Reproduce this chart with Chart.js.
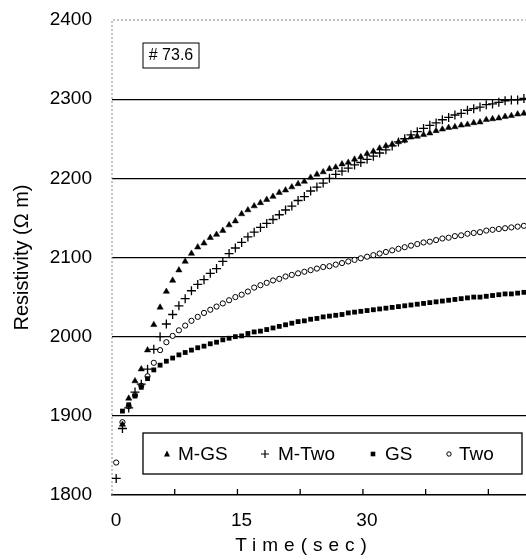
<!DOCTYPE html>
<html>
<head>
<meta charset="utf-8">
<script src="https://cdn.jsdelivr.net/npm/chart.js@4.4.1/dist/chart.umd.min.js"></script>
<style>
  html, body { margin: 0; padding: 0; background: #fff; overflow: hidden; }
  #wrap { width: 526px; height: 560px; }
</style>
</head>
<body>
<div id="wrap"><canvas id="myChart" width="526" height="560"></canvas></div>
<script>
// sample times (sec)
const times = [
  0.5, 1.25, 2, 2.75, 3.5, 4.25, 5, 5.75, 6.5, 7.25, 8, 8.75, 9.5, 10.25, 11, 11.75,
  12.5, 13.25, 14, 14.75, 15.5, 16.25, 17, 17.75, 18.5, 19.25, 20, 20.75, 21.5, 22.25,
  23, 23.75, 24.5, 25.25, 26, 26.75, 27.5, 28.25, 29, 29.75, 30.5, 31.25, 32, 32.75,
  33.5, 34.25, 35, 35.75, 36.5, 37.25, 38, 38.75, 39.5, 40.25, 41, 41.75, 42.5, 43.25,
  44, 44.75, 45.5, 46.25, 47, 47.75, 48.5, 49.25
];

const mgs = [
  null, 1889, 1922, 1944, 1959, 1983, 2015, 2037, 2057, 2071, 2084, 2095, 2105, 2113,
  2118, 2125, 2129, 2134, 2141, 2146, 2155, 2160, 2165, 2169, 2173, 2177, 2182, 2185,
  2189, 2193, 2196, 2201, 2205, 2208, 2212, 2214, 2218, 2220, 2224, 2227, 2231, 2234,
  2238, 2241, 2243, 2246, 2248, 2252, 2253, 2255, 2257, 2260, 2262, 2264, 2265, 2267,
  2268, 2270, 2271, 2274, 2275, 2276, 2278, 2279, 2281, 2282
];

const mtwo = [
  1821, 1884, 1910, 1930, 1940, 1959, 1984, 2000, 2016, 2028, 2039, 2048, 2058, 2066,
  2072, 2080, 2086, 2095, 2105, 2112, 2119, 2126, 2132, 2138, 2143, 2148, 2154, 2160,
  2165, 2172, 2177, 2184, 2189, 2194, 2200, 2205, 2209, 2213, 2217, 2220, 2224, 2228,
  2232, 2236, 2241, 2246, 2250, 2255, 2259, 2263, 2267, 2270, 2274, 2277, 2280, 2282,
  2286, 2288, 2290, 2293, 2294, 2296, 2298, 2299, 2299, 2301
];

const gs = [
  null, 1906, 1914, 1925, 1936, 1947, 1958, 1964, 1969, 1973, 1977, 1980, 1983, 1986,
  1988, 1991, 1993, 1996, 1998, 2000, 2001, 2004, 2006, 2007, 2009, 2011, 2013, 2015,
  2017, 2019, 2020, 2022, 2023, 2025, 2026, 2027, 2028, 2030, 2031, 2032, 2033, 2034,
  2035, 2036, 2037, 2038, 2039, 2040, 2041, 2042, 2043, 2044, 2045, 2046, 2047, 2048,
  2049, 2050, 2050, 2051, 2052, 2053, 2054, 2054, 2055, 2056
];

const two = [
  1841, 1892, 1912, 1926, 1938, 1950, 1967, 1983, 1993, 2001, 2008, 2014, 2020, 2025,
  2030, 2034, 2038, 2042, 2046, 2050, 2053, 2057, 2062, 2065, 2068, 2071, 2073, 2076,
  2078, 2080, 2082, 2084, 2086, 2088, 2089, 2091, 2093, 2095, 2097, 2099, 2101, 2103,
  2105, 2107, 2109, 2111, 2113, 2115, 2117, 2119, 2120, 2122, 2124, 2125, 2127, 2128,
  2130, 2131, 2132, 2134, 2135, 2136, 2137, 2138, 2139, 2140
];

const xLabels = [0, 15, 30];
const xMinorTicks = [7.5, 15, 22.5, 30, 37.5, 45];
const seriesNames = ["M-GS", "M-Two", "GS", "Two"];
const sampleTag = "# 73.6";

const FONT = "'Liberation Sans', Arial, sans-serif";

function toPoints(ys) {
  return times.map((t, i) => ({ x: t, y: ys[i] }));
}

// dashed frame, inner x ticks, sample tag, legend box and x title
const decor = {
  id: "decor",
  beforeDatasetsDraw(chart) {
    const { ctx, chartArea: a, scales } = chart;
    ctx.save();
    ctx.strokeStyle = "#888";
    ctx.lineWidth = 1;
    ctx.setLineDash([2, 2]);
    ctx.beginPath();
    ctx.moveTo(a.left, a.bottom);
    ctx.lineTo(a.left, a.top);
    ctx.lineTo(a.right, a.top);
    ctx.stroke();
    ctx.setLineDash([]);
    ctx.strokeStyle = "#000";
    ctx.lineWidth = 1.3;
    xMinorTicks.forEach(v => {
      const x = scales.x.getPixelForValue(v);
      ctx.beginPath();
      ctx.moveTo(x, a.bottom);
      ctx.lineTo(x, a.bottom - 6);
      ctx.stroke();
    });
    ctx.restore();
  },
  afterDatasetsDraw(chart) {
    const { ctx } = chart;
    ctx.save();
    // sample tag
    ctx.fillStyle = "#fff";
    ctx.fillRect(143, 43, 56, 25);
    ctx.strokeStyle = "#000";
    ctx.lineWidth = 1;
    ctx.strokeRect(143, 43, 56, 25);
    ctx.fillStyle = "#000";
    ctx.font = "16px " + FONT;
    ctx.textAlign = "center";
    ctx.textBaseline = "middle";
    ctx.fillText(sampleTag, 171, 56);

    // legend
    ctx.fillStyle = "#fff";
    ctx.fillRect(143, 433, 379, 41);
    ctx.lineWidth = 1.3;
    ctx.strokeRect(143, 433, 379, 41);
    const cy = 454;
    ctx.fillStyle = "#000";
    ctx.font = "19px " + FONT;
    ctx.textAlign = "left";
    ctx.textBaseline = "middle";
    const items = [
      { mark: 167, text: 178 },
      { mark: 265, text: 278 },
      { mark: 373, text: 385 },
      { mark: 449, text: 459 }
    ];
    items.forEach((it, i) => {
      const m = it.mark;
      ctx.beginPath();
      if (i === 0) {
        ctx.moveTo(m, cy - 3.5);
        ctx.lineTo(m + 3, cy + 2.5);
        ctx.lineTo(m - 3, cy + 2.5);
        ctx.closePath();
        ctx.fill();
      } else if (i === 1) {
        ctx.lineWidth = 1.2;
        ctx.moveTo(m - 4, cy);
        ctx.lineTo(m + 4, cy);
        ctx.moveTo(m, cy - 4);
        ctx.lineTo(m, cy + 4);
        ctx.stroke();
      } else if (i === 2) {
        ctx.fillRect(m - 2.3, cy - 2.3, 4.6, 4.6);
      } else {
        ctx.lineWidth = 1;
        ctx.arc(m, cy, 2.2, 0, Math.PI * 2);
        ctx.stroke();
      }
      ctx.fillText(seriesNames[i], it.text, cy + 1);
    });

    // x title, letter-spaced
    ctx.font = "19px " + FONT;
    ctx.textAlign = "center";
    ctx.letterSpacing = "6px";
    ctx.fillText("Time(sec)", 304, 546);
    ctx.restore();
  }
};

const data = {
  datasets: [
    {
      label: seriesNames[0],
      data: toPoints(mgs),
      pointStyle: "triangle",
      pointRadius: 3.6,
      backgroundColor: "#000",
      borderColor: "#000",
      borderWidth: 0.5
    },
    {
      label: seriesNames[1],
      data: toPoints(mtwo),
      pointStyle: "cross",
      pointRadius: 4.5,
      backgroundColor: "#000",
      borderColor: "#000",
      borderWidth: 1.3
    },
    {
      label: seriesNames[2],
      data: toPoints(gs),
      pointStyle: "rect",
      pointRadius: 3.4,
      backgroundColor: "#000",
      borderColor: "#000",
      borderWidth: 0
    },
    {
      label: seriesNames[3],
      data: toPoints(two),
      pointStyle: "circle",
      pointRadius: 2.6,
      backgroundColor: "#fff",
      borderColor: "#000",
      borderWidth: 1
    }
  ]
};

const config = {
  type: "scatter",
  data: data,
  options: {
    responsive: false,
    animation: false,
    layout: { autoPadding: false, padding: { top: 20, right: 0, left: 0, bottom: 0 } },
    plugins: {
      legend: { display: false },
      tooltip: { enabled: false }
    },
    scales: {
      x: {
        type: "linear",
        min: 0,
        max: 49.5,
        grid: { display: false },
        border: { display: true, color: "#000", width: 1.5 },
        ticks: {
          stepSize: 7.5,
          includeBounds: false,
          autoSkip: false,
          maxRotation: 0,
          padding: 6,
          labelOffset: 4,
          color: "#000",
          font: { family: FONT, size: 19 },
          callback: v => (xLabels.includes(v) ? String(v) : "")
        },
        afterFit: s => { s.height = 65; }
      },
      y: {
        min: 1800,
        max: 2400,
        grid: {
          drawTicks: true,
          tickLength: 20,
          tickColor: "rgba(0,0,0,0)",
          lineWidth: 1.3,
          color: c => (c.tick.value === 1800 || c.tick.value === 2400) ? "rgba(0,0,0,0)" : "#000"
        },
        border: { display: false },
        ticks: {
          stepSize: 100,
          padding: 0,
          color: "#000",
          font: { family: FONT, size: 19 },
          callback: v => String(v)
        },
        title: {
          display: true,
          text: "Resistivity (Ω m)",
          color: "#000",
          font: { family: FONT, size: 20 },
          padding: { top: 10, bottom: 0 }
        },
        afterFit: s => { s.width = 112; }
      }
    }
  },
  plugins: [decor]
};

const myChart = new Chart(document.getElementById("myChart").getContext("2d"), config);
</script>
</body>
</html>
